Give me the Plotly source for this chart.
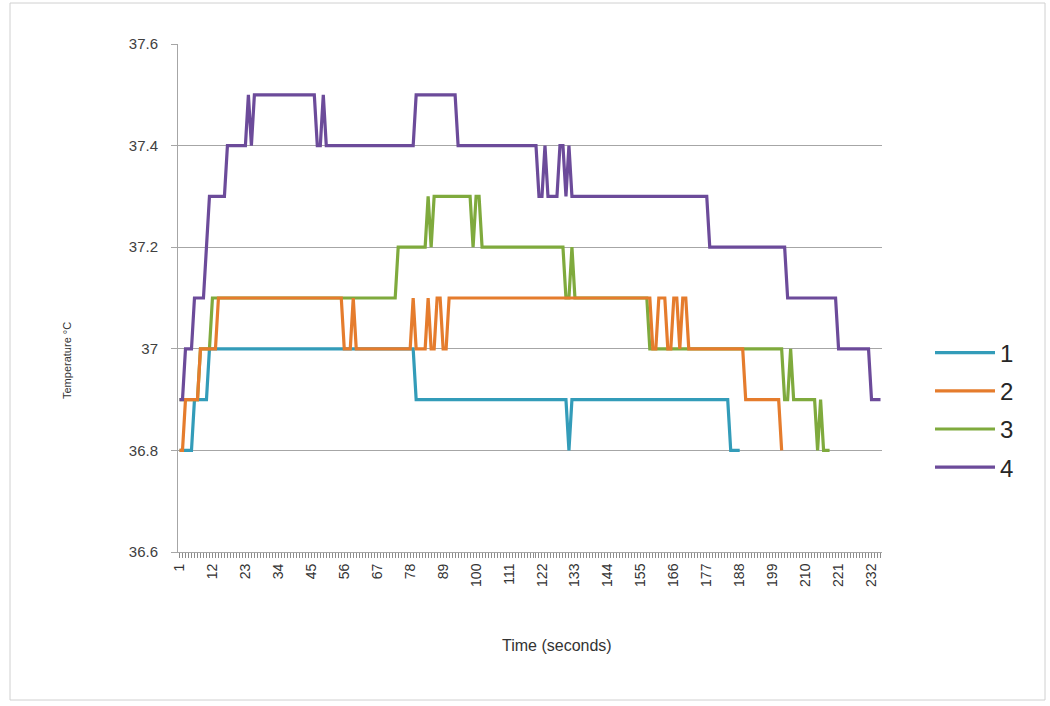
import plotly.graph_objects as go

# ---- data (temperature readings, one per second) ----
series_names = ["1", "2", "3", "4"]

series_1 = [
    36.8, 36.8, 36.8, 36.8, 36.8, 36.9, 36.9, 36.9, 36.9, 36.9,   # 1-10
    37.0, 37.0, 37.0, 37.0, 37.0, 37.0, 37.0, 37.0, 37.0, 37.0,   # 11-20
    37.0, 37.0, 37.0, 37.0, 37.0, 37.0, 37.0, 37.0, 37.0, 37.0,   # 21-30
    37.0, 37.0, 37.0, 37.0, 37.0, 37.0, 37.0, 37.0, 37.0, 37.0,   # 31-40
    37.0, 37.0, 37.0, 37.0, 37.0, 37.0, 37.0, 37.0, 37.0, 37.0,   # 41-50
    37.0, 37.0, 37.0, 37.0, 37.0, 37.0, 37.0, 37.0, 37.0, 37.0,   # 51-60
    37.0, 37.0, 37.0, 37.0, 37.0, 37.0, 37.0, 37.0, 37.0, 37.0,   # 61-70
    37.0, 37.0, 37.0, 37.0, 37.0, 37.0, 37.0, 37.0, 37.0, 36.9,   # 71-80
    36.9, 36.9, 36.9, 36.9, 36.9, 36.9, 36.9, 36.9, 36.9, 36.9,   # 81-90
    36.9, 36.9, 36.9, 36.9, 36.9, 36.9, 36.9, 36.9, 36.9, 36.9,   # 91-100
    36.9, 36.9, 36.9, 36.9, 36.9, 36.9, 36.9, 36.9, 36.9, 36.9,   # 101-110
    36.9, 36.9, 36.9, 36.9, 36.9, 36.9, 36.9, 36.9, 36.9, 36.9,   # 111-120
    36.9, 36.9, 36.9, 36.9, 36.9, 36.9, 36.9, 36.9, 36.9, 36.9,   # 121-130
    36.8, 36.9, 36.9, 36.9, 36.9, 36.9, 36.9, 36.9, 36.9, 36.9,   # 131-140
    36.9, 36.9, 36.9, 36.9, 36.9, 36.9, 36.9, 36.9, 36.9, 36.9,   # 141-150
    36.9, 36.9, 36.9, 36.9, 36.9, 36.9, 36.9, 36.9, 36.9, 36.9,   # 151-160
    36.9, 36.9, 36.9, 36.9, 36.9, 36.9, 36.9, 36.9, 36.9, 36.9,   # 161-170
    36.9, 36.9, 36.9, 36.9, 36.9, 36.9, 36.9, 36.9, 36.9, 36.9,   # 171-180
    36.9, 36.9, 36.9, 36.9, 36.8, 36.8, 36.8, 36.8,               # 181-188
]

series_2 = [
    36.8, 36.8, 36.9, 36.9, 36.9, 36.9, 36.9, 37.0, 37.0, 37.0,   # 1-10
    37.0, 37.0, 37.0, 37.1, 37.1, 37.1, 37.1, 37.1, 37.1, 37.1,   # 11-20
    37.1, 37.1, 37.1, 37.1, 37.1, 37.1, 37.1, 37.1, 37.1, 37.1,   # 21-30
    37.1, 37.1, 37.1, 37.1, 37.1, 37.1, 37.1, 37.1, 37.1, 37.1,   # 31-40
    37.1, 37.1, 37.1, 37.1, 37.1, 37.1, 37.1, 37.1, 37.1, 37.1,   # 41-50
    37.1, 37.1, 37.1, 37.1, 37.1, 37.0, 37.0, 37.0, 37.1, 37.0,   # 51-60
    37.0, 37.0, 37.0, 37.0, 37.0, 37.0, 37.0, 37.0, 37.0, 37.0,   # 61-70
    37.0, 37.0, 37.0, 37.0, 37.0, 37.0, 37.0, 37.0, 37.1, 37.0,   # 71-80
    37.0, 37.0, 37.0, 37.1, 37.0, 37.0, 37.1, 37.1, 37.0, 37.0,   # 81-90
    37.1, 37.1, 37.1, 37.1, 37.1, 37.1, 37.1, 37.1, 37.1, 37.1,   # 91-100
    37.1, 37.1, 37.1, 37.1, 37.1, 37.1, 37.1, 37.1, 37.1, 37.1,   # 101-110
    37.1, 37.1, 37.1, 37.1, 37.1, 37.1, 37.1, 37.1, 37.1, 37.1,   # 111-120
    37.1, 37.1, 37.1, 37.1, 37.1, 37.1, 37.1, 37.1, 37.1, 37.1,   # 121-130
    37.1, 37.1, 37.1, 37.1, 37.1, 37.1, 37.1, 37.1, 37.1, 37.1,   # 131-140
    37.1, 37.1, 37.1, 37.1, 37.1, 37.1, 37.1, 37.1, 37.1, 37.1,   # 141-150
    37.1, 37.1, 37.1, 37.1, 37.1, 37.1, 37.1, 37.1, 37.0, 37.0,   # 151-160
    37.1, 37.1, 37.1, 37.0, 37.0, 37.1, 37.1, 37.0, 37.1, 37.1,   # 161-170
    37.0, 37.0, 37.0, 37.0, 37.0, 37.0, 37.0, 37.0, 37.0, 37.0,   # 171-180
    37.0, 37.0, 37.0, 37.0, 37.0, 37.0, 37.0, 37.0, 37.0, 36.9,   # 181-190
    36.9, 36.9, 36.9, 36.9, 36.9, 36.9, 36.9, 36.9, 36.9, 36.9,   # 191-200
    36.9, 36.8,                                                   # 201-202
]

series_3 = [
    36.9, 36.9, 36.9, 36.9, 36.9, 36.9, 36.9, 37.0, 37.0, 37.0,   # 1-10
    37.0, 37.1, 37.1, 37.1, 37.1, 37.1, 37.1, 37.1, 37.1, 37.1,   # 11-20
    37.1, 37.1, 37.1, 37.1, 37.1, 37.1, 37.1, 37.1, 37.1, 37.1,   # 21-30
    37.1, 37.1, 37.1, 37.1, 37.1, 37.1, 37.1, 37.1, 37.1, 37.1,   # 31-40
    37.1, 37.1, 37.1, 37.1, 37.1, 37.1, 37.1, 37.1, 37.1, 37.1,   # 41-50
    37.1, 37.1, 37.1, 37.1, 37.1, 37.1, 37.1, 37.1, 37.1, 37.1,   # 51-60
    37.1, 37.1, 37.1, 37.1, 37.1, 37.1, 37.1, 37.1, 37.1, 37.1,   # 61-70
    37.1, 37.1, 37.1, 37.2, 37.2, 37.2, 37.2, 37.2, 37.2, 37.2,   # 71-80
    37.2, 37.2, 37.2, 37.3, 37.2, 37.3, 37.3, 37.3, 37.3, 37.3,   # 81-90
    37.3, 37.3, 37.3, 37.3, 37.3, 37.3, 37.3, 37.3, 37.2, 37.3,   # 91-100
    37.3, 37.2, 37.2, 37.2, 37.2, 37.2, 37.2, 37.2, 37.2, 37.2,   # 101-110
    37.2, 37.2, 37.2, 37.2, 37.2, 37.2, 37.2, 37.2, 37.2, 37.2,   # 111-120
    37.2, 37.2, 37.2, 37.2, 37.2, 37.2, 37.2, 37.2, 37.2, 37.1,   # 121-130
    37.1, 37.2, 37.1, 37.1, 37.1, 37.1, 37.1, 37.1, 37.1, 37.1,   # 131-140
    37.1, 37.1, 37.1, 37.1, 37.1, 37.1, 37.1, 37.1, 37.1, 37.1,   # 141-150
    37.1, 37.1, 37.1, 37.1, 37.1, 37.1, 37.1, 37.0, 37.0, 37.0,   # 151-160
    37.0, 37.0, 37.0, 37.0, 37.0, 37.0, 37.0, 37.0, 37.0, 37.0,   # 161-170
    37.0, 37.0, 37.0, 37.0, 37.0, 37.0, 37.0, 37.0, 37.0, 37.0,   # 171-180
    37.0, 37.0, 37.0, 37.0, 37.0, 37.0, 37.0, 37.0, 37.0, 37.0,   # 181-190
    37.0, 37.0, 37.0, 37.0, 37.0, 37.0, 37.0, 37.0, 37.0, 37.0,   # 191-200
    37.0, 37.0, 36.9, 36.9, 37.0, 36.9, 36.9, 36.9, 36.9, 36.9,   # 201-210
    36.9, 36.9, 36.9, 36.8, 36.9, 36.8, 36.8, 36.8,               # 211-218
]

series_4 = [
    36.9, 36.9, 37.0, 37.0, 37.0, 37.1, 37.1, 37.1, 37.1, 37.2,   # 1-10
    37.3, 37.3, 37.3, 37.3, 37.3, 37.3, 37.4, 37.4, 37.4, 37.4,   # 11-20
    37.4, 37.4, 37.4, 37.5, 37.4, 37.5, 37.5, 37.5, 37.5, 37.5,   # 21-30
    37.5, 37.5, 37.5, 37.5, 37.5, 37.5, 37.5, 37.5, 37.5, 37.5,   # 31-40
    37.5, 37.5, 37.5, 37.5, 37.5, 37.5, 37.4, 37.4, 37.5, 37.4,   # 41-50
    37.4, 37.4, 37.4, 37.4, 37.4, 37.4, 37.4, 37.4, 37.4, 37.4,   # 51-60
    37.4, 37.4, 37.4, 37.4, 37.4, 37.4, 37.4, 37.4, 37.4, 37.4,   # 61-70
    37.4, 37.4, 37.4, 37.4, 37.4, 37.4, 37.4, 37.4, 37.4, 37.5,   # 71-80
    37.5, 37.5, 37.5, 37.5, 37.5, 37.5, 37.5, 37.5, 37.5, 37.5,   # 81-90
    37.5, 37.5, 37.5, 37.4, 37.4, 37.4, 37.4, 37.4, 37.4, 37.4,   # 91-100
    37.4, 37.4, 37.4, 37.4, 37.4, 37.4, 37.4, 37.4, 37.4, 37.4,   # 101-110
    37.4, 37.4, 37.4, 37.4, 37.4, 37.4, 37.4, 37.4, 37.4, 37.4,   # 111-120
    37.3, 37.3, 37.4, 37.3, 37.3, 37.3, 37.3, 37.4, 37.4, 37.3,   # 121-130
    37.4, 37.3, 37.3, 37.3, 37.3, 37.3, 37.3, 37.3, 37.3, 37.3,   # 131-140
    37.3, 37.3, 37.3, 37.3, 37.3, 37.3, 37.3, 37.3, 37.3, 37.3,   # 141-150
    37.3, 37.3, 37.3, 37.3, 37.3, 37.3, 37.3, 37.3, 37.3, 37.3,   # 151-160
    37.3, 37.3, 37.3, 37.3, 37.3, 37.3, 37.3, 37.3, 37.3, 37.3,   # 161-170
    37.3, 37.3, 37.3, 37.3, 37.3, 37.3, 37.3, 37.2, 37.2, 37.2,   # 171-180
    37.2, 37.2, 37.2, 37.2, 37.2, 37.2, 37.2, 37.2, 37.2, 37.2,   # 181-190
    37.2, 37.2, 37.2, 37.2, 37.2, 37.2, 37.2, 37.2, 37.2, 37.2,   # 191-200
    37.2, 37.2, 37.2, 37.1, 37.1, 37.1, 37.1, 37.1, 37.1, 37.1,   # 201-210
    37.1, 37.1, 37.1, 37.1, 37.1, 37.1, 37.1, 37.1, 37.1, 37.1,   # 211-220
    37.0, 37.0, 37.0, 37.0, 37.0, 37.0, 37.0, 37.0, 37.0, 37.0,   # 221-230
    37.0, 36.9, 36.9, 36.9, 36.9,                                 # 231-235
]

n_seconds = 235
time_s = list(range(1, n_seconds + 1))
labelled_ticks = [1, 12, 23, 34, 45, 56, 67, 78, 89, 100, 111, 122, 133, 144,
                  155, 166, 177, 188, 199, 210, 221, 232]
y_ticks = [36.6, 36.8, 37.0, 37.2, 37.4, 37.6]
y_tick_text = ["36.6", "36.8", "37", "37.2", "37.4", "37.6"]

# one tick mark per second, labels every 11 seconds
tick_vals = time_s
tick_text = [str(t) if t in labelled_ticks else "" for t in time_s]

colors = {"1": "#339CB9", "2": "#E57C2D", "3": "#7FAA3D", "4": "#6C4B9A"}
series = {"1": series_1, "2": series_2, "3": series_3, "4": series_4}

# ---- layout geometry (pixels) ----
W, H = 1050, 706
L, R, T, B = 178, 1050 - 882, 44, 706 - 552
PW, PH = W - L - R, H - T - B


def px(xp):
    return (xp - L) / PW


def py(yp):
    return (H - B - yp) / PH


fig = go.Figure()
# draw order: 1, 3, 2, 4 (orange sits over green in the source chart)
for name, rank in [("1", 1), ("3", 3), ("2", 2), ("4", 4)]:
    vals = series[name]
    fig.add_trace(go.Scatter(
        x=time_s[:len(vals)], y=vals, mode="lines", name=name,
        line=dict(color=colors[name], width=3.2),
        legendrank=rank, legendgroup=name,
        hoverinfo="x+y+name",
    ))

axis_gray = "#A6A6A6"
fig.update_layout(
    width=W, height=H,
    margin=dict(l=L, r=R, t=T, b=B),
    paper_bgcolor="white", plot_bgcolor="white",
    font=dict(family="Liberation Sans, Arial, sans-serif", color="#404040"),
    showlegend=True,
    legend=dict(
        x=px(930), xanchor="left", y=py(410), yanchor="middle",
        font=dict(size=24, color="#262626", family="Liberation Sans, Arial, sans-serif"),
        itemwidth=60, tracegroupgap=4, bgcolor="rgba(0,0,0,0)",
    ),
    xaxis=dict(
        range=[0.5, n_seconds + 0.5],
        tickmode="array", tickvals=tick_vals, ticktext=tick_text,
        tickangle=-90, tickfont=dict(size=14, color="#333333"),
        ticks="outside", ticklen=5, tickcolor="#8C8C8C", tickwidth=1,
        showline=True, linecolor=axis_gray, linewidth=1,
        showgrid=False, zeroline=False,
    ),
    yaxis=dict(
        range=[36.6, 37.6],
        tickmode="array", tickvals=y_ticks, ticktext=y_tick_text,
        tickfont=dict(size=15, color="#404040"),
        ticks="outside", ticklen=6, tickcolor=axis_gray,
        ticklabelstandoff=10,
        showline=True, linecolor=axis_gray, linewidth=1,
        showgrid=True, gridcolor=axis_gray, gridwidth=1, zeroline=False,
    ),
    annotations=[
        dict(text="Time (seconds)", xref="paper", yref="paper",
             x=px(557), y=py(645), xanchor="center", yanchor="middle",
             showarrow=False, font=dict(size=16, color="#333333")),
        dict(text="Temperature °C", xref="paper", yref="paper",
             x=px(67), y=py(360), xanchor="center", yanchor="middle",
             textangle=-90, showarrow=False, font=dict(size=11, color="#333333")),
    ],
    shapes=[
        dict(type="rect", xref="paper", yref="paper",
             x0=px(10), x1=px(1045), y0=py(700), y1=py(3),
             line=dict(color="#D0D0D0", width=1), fillcolor="rgba(0,0,0,0)", layer="below"),
    ],
)

fig.write_html("out.html")
